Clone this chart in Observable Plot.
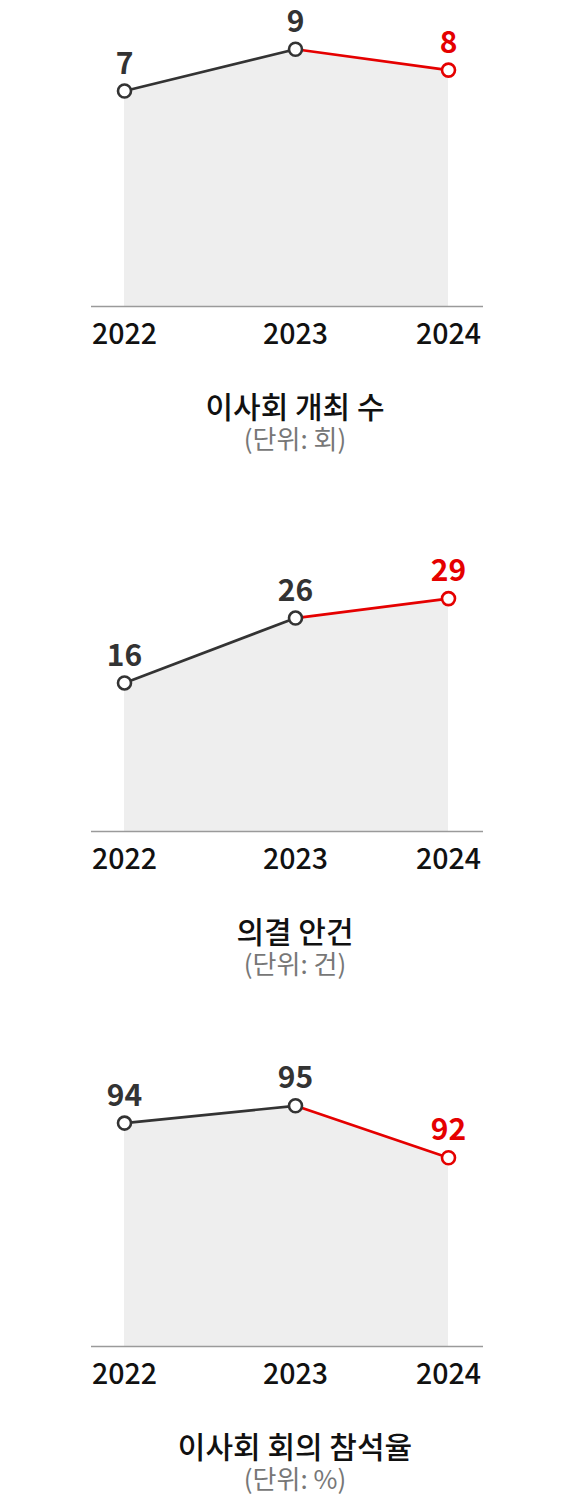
<!DOCTYPE html>
<html>
<head>
<meta charset="utf-8">
<script src="https://cdn.jsdelivr.net/npm/d3@7"></script>
<script src="https://cdn.jsdelivr.net/npm/@observablehq/plot@0.6"></script>
<style>
  html, body { margin: 0; padding: 0; background: #fff; }
  body { font-family: "Noto Sans CJK KR", "Noto Sans", sans-serif; }
  #root { position: relative; width: 585px; height: 1500px; }
  .panel { position: absolute; left: 0; width: 585px; height: 480px; }
  .panel svg { position: absolute; left: 0; top: 0; overflow: visible; }
  .title, .unit { position: absolute; left: 0; width: 585px; padding-left: 5px; box-sizing: border-box; text-align: center; white-space: nowrap; }
  .title { font-size: 30px; font-weight: 500; color: #111; line-height: 32px; top: 389px; }
  .unit { font-size: 26px; font-weight: 400; color: #777; line-height: 30px; top: 423px; }
  svg [aria-label="x-axis tick label"] text { font-weight: 500; }
</style>
</head>
<body>
<div id="root"></div>
<script>
// ---- data ----
const years = [2022, 2023, 2024];
const meetingCounts = [7, 9, 8];
const resolvedAgendas = [16, 26, 29];
const attendanceRates = [94, 95, 92];
const chartTitles = ["이사회 개최 수", "의결 안건", "이사회 회의 참석율"];
const unitLabels = ["(단위: 회)", "(단위: 건)", "(단위: %)"];

// ---- layout / style ----
const DARK = "#333333";
const RED = "#e50000";
const panelTops = [0, 525, 1040];
const yDomains = [[-3.34, 11.34], [-6.9, 40.27], [81.1, 98.77]];
const seriesList = [meetingCounts, resolvedAgendas, attendanceRates];

const root = document.getElementById("root");

seriesList.forEach((values, k) => {
  const data = years.map((year, i) => ({ year, value: values[i], latest: i === years.length - 1 }));
  const links = data.slice(1).map((d, i) => ({ from: data[i], to: d }));
  const yDomain = yDomains[k];

  const chart = Plot.plot({
    width: 585,
    height: 360,
    marginTop: 0,
    marginBottom: 54,
    marginLeft: 91,
    marginRight: 102,
    style: { fontFamily: '"Noto Sans CJK KR", "Noto Sans", sans-serif', background: "transparent", overflow: "visible" },
    x: { type: "linear", domain: years, range: [124, 295, 448] },
    y: { domain: yDomain, axis: null },
    color: { type: "identity" },
    marks: [
      Plot.areaY(data, { x: "year", y1: yDomain[0], y2: "value", fill: "#eeeeee" }),
      Plot.ruleY([yDomain[0]], { stroke: "#9a9a9a", strokeWidth: 1.6 }),
      Plot.link(links, {
        x1: (d) => d.from.year, y1: (d) => d.from.value,
        x2: (d) => d.to.year, y2: (d) => d.to.value,
        stroke: (d) => (d.to.latest ? RED : DARK), strokeWidth: 2.7
      }),
      Plot.dot(data, {
        x: "year", y: "value", r: 6.5, fill: "#ffffff",
        stroke: (d) => (d.latest ? RED : DARK), strokeWidth: 2.6
      }),
      Plot.text(data, {
        x: "year", y: "value", text: (d) => String(d.value), dy: -27,
        fill: (d) => (d.latest ? RED : DARK), fontSize: 30, fontWeight: 700
      }),
      Plot.axisX({
        ticks: years, tickFormat: (d) => String(d), tickSize: 0, tickPadding: 17,
        fontSize: 28.5, fill: "#111111", label: null
      })
    ]
  });

  const panel = document.createElement("div");
  panel.className = "panel";
  panel.style.top = panelTops[k] + "px";
  panel.appendChild(chart);

  const title = document.createElement("div");
  title.className = "title";
  title.textContent = chartTitles[k];
  panel.appendChild(title);

  const unit = document.createElement("div");
  unit.className = "unit";
  unit.textContent = unitLabels[k];
  panel.appendChild(unit);

  root.appendChild(panel);
});
</script>
</body>
</html>
